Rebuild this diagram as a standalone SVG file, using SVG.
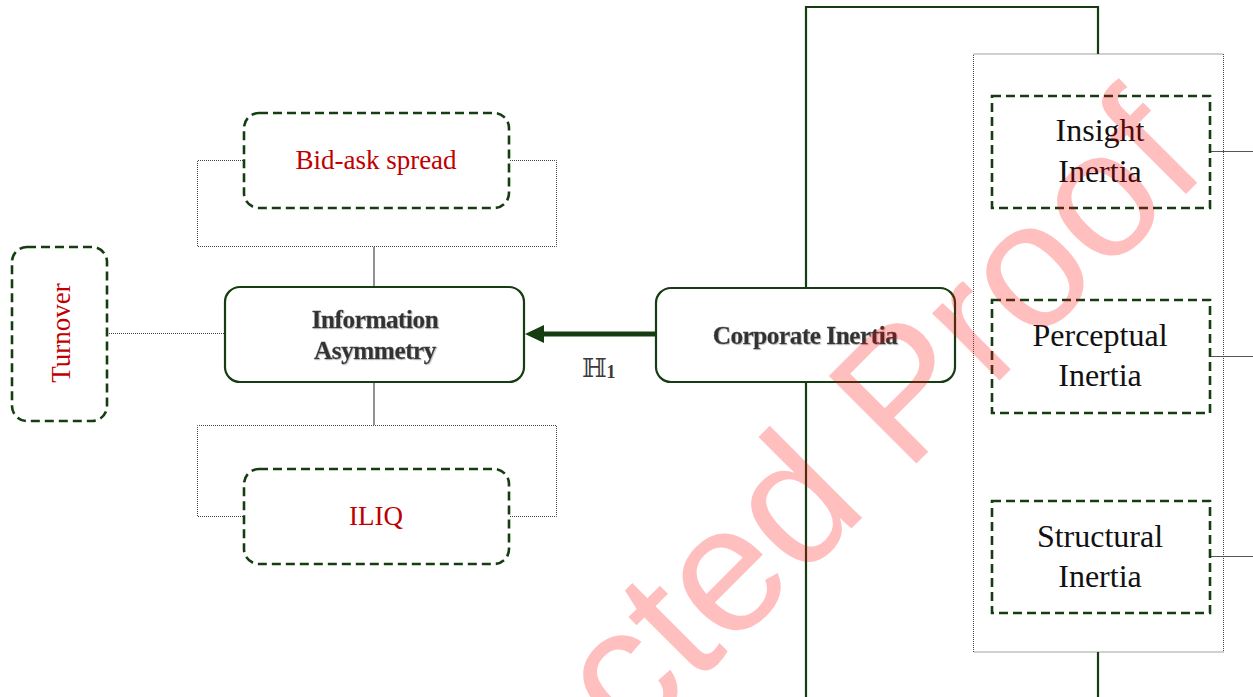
<svg xmlns="http://www.w3.org/2000/svg" width="1253" height="697" viewBox="0 0 1253 697">
<style>
.dash{fill:#fff;stroke:#163d12;stroke-width:2.6;stroke-dasharray:9,5}
.solid{fill:#fff;stroke:#163d12;stroke-width:2.2}
.dot{fill:none;stroke:#444;stroke-width:1;stroke-dasharray:1,1}
.thin{fill:none;stroke:#222;stroke-width:1}
.grn{fill:none;stroke:#163d12;stroke-width:2.2}
.red{font-family:"Liberation Serif",serif;font-size:27px;fill:#c00000;text-anchor:middle}
.blk{font-family:"Liberation Serif",serif;font-size:32px;fill:#111;text-anchor:middle}
.bold{font-family:"Liberation Serif",serif;font-size:25.3px;font-weight:bold;fill:#333;stroke:#444;stroke-width:0.3;text-anchor:middle;letter-spacing:-0.5px;filter:url(#sh)}
</style>
<defs>
<filter id="sh" x="-10%" y="-30%" width="120%" height="160%">
<feOffset in="SourceGraphic" dx="1" dy="1" result="o"/>
<feColorMatrix in="o" type="matrix" values="0 0 0 0 0.55 0 0 0 0 0.55 0 0 0 0 0.55 0 0 0 0.8 0" result="s"/>
<feMerge><feMergeNode in="s"/><feMergeNode in="SourceGraphic"/></feMerge>
</filter>
</defs>
<g id="connectors">
<path class="dot" d="M243,160.5 H197.5 V246.5 H556.5 V160.5 H509"/>
<path class="thin" d="M374,247 V287"/>
<path class="dot" d="M243,516.5 H197.5 V425.5 H556.5 V516.5 H509"/>
<path class="thin" d="M374,382 V425"/>
<path class="dot" d="M107,333.5 H224"/>
<path d="M656,334 H540" stroke="#163d12" stroke-width="5" fill="none"/>
<polygon points="525,334 544,325 544,343" fill="#163d12"/>
<path class="grn" d="M806,288 V7 H1098 V54"/>
<path class="grn" d="M806,382 V697"/>
<path class="grn" d="M1098,652 V697"/>
<path d="M1210,151.5 H1253 M1210,356.5 H1253 M1210,556.5 H1253" stroke="#555" stroke-width="1" fill="none"/>
<text x="582" y="377" font-family="DejaVu Serif,serif" font-size="26" fill="#3a3a3a">ℍ<tspan font-size="18" dy="1" font-family="Liberation Serif,serif" font-weight="bold">1</tspan></text>
</g>
<g id="container">
<rect x="973.5" y="54" width="250" height="598" class="dot"/>
</g>
<g id="bidask">
<rect x="244" y="113" width="265" height="95" rx="15" class="dash"/>
<text x="376" y="169" class="red">Bid-ask spread</text>
</g>
<g id="iliq">
<rect x="244" y="469" width="265" height="95" rx="15" class="dash"/>
<text x="376" y="525" class="red">ILIQ</text>
</g>
<g id="turnover">
<rect x="12" y="247" width="95" height="174" rx="15" class="dash"/>
<text x="0" y="0" class="red" transform="translate(70,333) rotate(-90)">Turnover</text>
</g>
<g id="infoasym">
<rect x="225" y="287" width="299" height="95" rx="15" class="solid"/>
<text x="375" y="328" class="bold">Information</text>
<text x="375" y="359" class="bold">Asymmetry</text>
</g>
<g id="corporate">
<rect x="656" y="288" width="299" height="94" rx="15" class="solid"/>
<text x="805" y="344" class="bold">Corporate Inertia</text>
</g>
<g id="insight">
<rect x="992" y="96" width="218" height="112" class="dash"/>
<text x="1100" y="141" class="blk">Insight</text>
<text x="1100" y="182" class="blk">Inertia</text>
</g>
<g id="perceptual">
<rect x="992" y="300" width="218" height="113" class="dash"/>
<text x="1100" y="346" class="blk">Perceptual</text>
<text x="1100" y="386" class="blk">Inertia</text>
</g>
<g id="structural">
<rect x="992" y="501" width="218" height="112" class="dash"/>
<text x="1100" y="547" class="blk">Structural</text>
<text x="1100" y="587" class="blk">Inertia</text>
</g>
<g id="watermark">
<text x="630" y="750" transform="rotate(-45 630 750)" font-family="Liberation Sans,sans-serif" font-size="180" fill="#ff0000" fill-opacity="0.25">cted Proof</text>
</g>
</svg>
